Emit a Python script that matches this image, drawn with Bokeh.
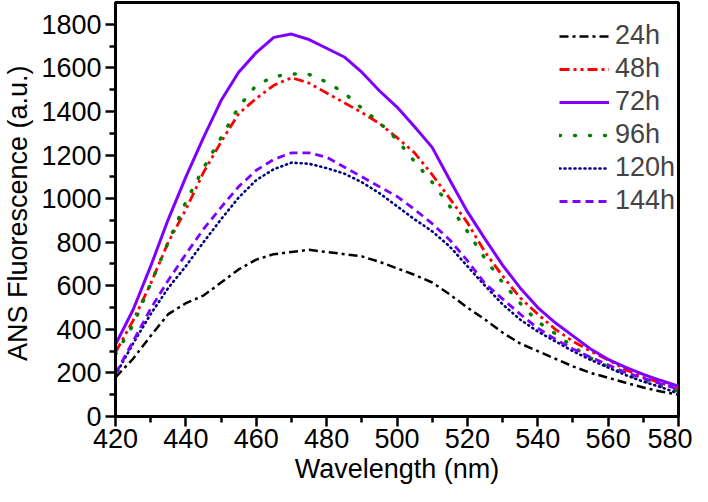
from bokeh.plotting import figure
from bokeh.models import FixedTicker, Legend, LegendItem, Range1d
from bokeh.embed import file_html
from bokeh.resources import INLINE

wavelength = list(range(420, 581, 5))
h24 = [180, 265, 370, 470, 520, 555, 615, 675, 720, 745, 755, 765, 755, 745, 735, 710, 680,
       650, 615, 560, 500, 445, 385, 335, 300, 265, 230, 200, 178, 155, 133, 115, 100]
h48 = [295, 440, 610, 800, 950, 1120, 1260, 1390, 1460, 1520, 1555, 1530, 1485, 1440, 1395, 1345, 1280,
       1210, 1110, 1000, 890, 755, 645, 545, 470, 400, 345, 300, 260, 215, 180, 155, 125]
h72 = [330, 490, 690, 905, 1100, 1280, 1450, 1580, 1670, 1740, 1755, 1730, 1690, 1650, 1580, 1495, 1420,
       1330, 1235, 1085, 940, 815, 695, 590, 500, 430, 370, 310, 262, 225, 193, 165, 139]
h96 = [285, 420, 610, 800, 985, 1140, 1280, 1420, 1520, 1560, 1572, 1570, 1535, 1485, 1415, 1350, 1270,
       1170, 1075, 965, 850, 725, 615, 520, 435, 380, 320, 268, 228, 195, 165, 140, 115]
h120 = [190, 335, 470, 590, 690, 800, 905, 1005, 1085, 1135, 1165, 1160, 1140, 1115, 1075, 1025, 965,
        905, 850, 780, 690, 600, 515, 445, 390, 345, 300, 260, 225, 190, 160, 135, 105]
h144 = [197, 345, 495, 625, 745, 860, 960, 1055, 1130, 1180, 1210, 1210, 1190, 1145, 1100, 1055, 1010,
        950, 885, 810, 715, 610, 540, 470, 405, 355, 310, 272, 237, 202, 176, 150, 125]

x_ticks = list(range(420, 581, 20))
x_minor = list(range(430, 580, 20))
y_ticks = list(range(0, 1801, 200))
y_minor = list(range(100, 1900, 200))

FONT = "Liberation Sans"
FS = "27px"

p = figure(width=692, height=486, output_backend="svg", toolbar_location=None,
           x_range=Range1d(420, 580), y_range=Range1d(0, 1900),
           min_border=0, min_border_top=2, min_border_right=14)

p.xgrid.visible = False
p.ygrid.visible = False
p.outline_line_color = "black"
p.outline_line_width = 3
p.outline_line_alpha = 1

series = [
    ("24h", h24, "black", "9 4 3 4", 2.5, "butt"),
    ("48h", h48, "#FF0000", "10 4 3 4 3 4", 2.8, "butt"),
    ("72h", h72, "#8000FF", "solid", 3, "butt"),
    ("96h", h96, "#008000", "1 14", 3.5, "round"),
    ("120h", h120, "#000080", "1 4", 2.6, "round"),
    ("144h", h144, "#8000FF", "8 5", 2.8, "butt"),
]
items = []
for label, ys, col, dash, lw, cap in series:
    r = p.line(wavelength, ys, line_color=col, line_dash=dash, line_width=lw, line_cap=cap)
    items.append(LegendItem(label=label, renderers=[r]))

for ax in (p.xaxis[0], p.yaxis[0]):
    ax.axis_line_width = 3
    ax.major_tick_line_width = 2.5
    ax.minor_tick_line_width = 2.5
    ax.major_tick_out = 10
    ax.major_tick_in = 0
    ax.minor_tick_out = 6
    ax.minor_tick_in = 0
    ax.major_label_text_font = FONT
    ax.major_label_text_font_size = FS
    ax.major_label_text_color = "black"
    ax.axis_label_text_font = FONT
    ax.axis_label_text_font_size = FS
    ax.axis_label_text_font_style = "normal"
    ax.axis_label_text_color = "black"

p.xaxis.ticker = FixedTicker(ticks=x_ticks, minor_ticks=x_minor)
p.yaxis.ticker = FixedTicker(ticks=y_ticks, minor_ticks=y_minor)
p.xaxis.axis_label = "Wavelength (nm)"
p.yaxis.axis_label = "ANS Fluorescence  (a.u.)"
p.xaxis.major_label_standoff = 2
p.yaxis.major_label_standoff = 4
p.xaxis.axis_label_standoff = 3
p.yaxis.axis_label_standoff = 5

legend = Legend(items=items, location=(444, 200), glyph_width=50, glyph_height=30,
                label_height=30, label_standoff=6, spacing=2, padding=0, margin=0,
                border_line_color=None, background_fill_alpha=0,
                label_text_font=FONT, label_text_font_size=FS)
p.add_layout(legend)

open("out.html", "w").write(file_html(p, INLINE))
